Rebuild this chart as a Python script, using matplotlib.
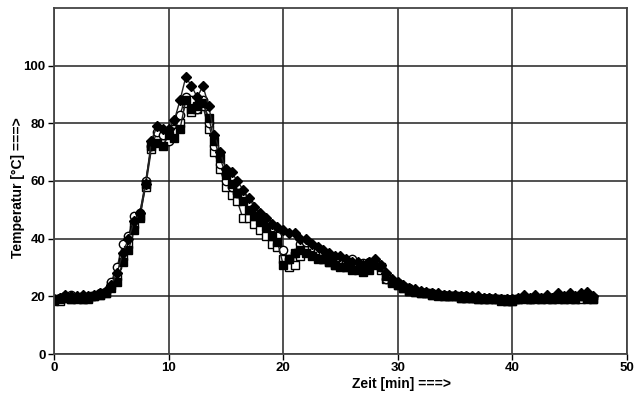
import numpy as np
import matplotlib.pyplot as plt

plt.rcParams['font.family'] = ['Liberation Sans', 'DejaVu Sans']

# time axis [min], one reading every half minute
zeit = np.arange(0, 47.5, 0.5)

# filled diamonds
temp_a = [19, 19.5, 20.5, 20, 20, 20.5, 20, 20.5, 21, 22,
          24, 28, 35, 40, 46, 49, 59, 74, 79, 78,
          78, 81, 88, 96, 93, 89, 93, 86, 76, 70,
          64, 63, 60, 57, 54, 51, 49, 47, 45, 44,
          43, 42, 42, 40, 40, 38, 37, 36, 35, 34,
          34, 33, 32, 32, 31, 32, 33, 31, 28, 26,
          25, 24, 23, 22.5, 22, 21.5, 21, 21, 20.5, 20.5,
          20.5, 20, 20, 20, 20, 19.5, 19.5, 19.5, 19, 19,
          19, 19.5, 20.5, 19.5, 20.5, 19.5, 20.5, 19.5, 21, 20,
          21, 20, 21, 21.5, 20]
# filled squares
temp_b = [18.5, 19, 19.5, 19, 19.5, 19, 19.5, 20, 20.5, 21,
          23, 25, 32, 36, 43, 47, 59, 72, 73, 72,
          76, 75, 78, 88, 85, 86, 87, 82, 74, 68,
          62, 59, 56, 53, 50, 48, 46, 44, 41, 39,
          31, 33, 35, 36, 35, 34, 33, 33, 32, 31,
          30, 30, 29, 29, 28.5, 29, 31, 30, 27, 25,
          24, 23, 22, 21.5, 21, 21, 20.5, 20.5, 20, 20,
          20, 19.5, 19.5, 19.5, 19, 19, 19, 19, 18.5, 18.5,
          18.5, 19, 19.5, 19, 19.5, 19, 19.5, 19, 19.5, 19,
          19.5, 19, 20, 19.5, 19]
# open circles
temp_c = [19, 19.5, 20, 20.5, 19.5, 20, 19.5, 20, 21, 21.5,
          25, 30, 38, 41, 48, 49, 60, 72, 77, 76,
          74, 77, 83, 89, 88, 85, 88, 80, 72, 66,
          60, 58, 56, 54, 52, 49, 47, 46, 44, 41,
          36, 33, 35, 38, 39, 37, 36, 35, 34, 33,
          33, 32, 33, 31, 31.5, 32, 32, 30, 26, 25,
          24.5, 23.5, 23, 22, 21.5, 21, 21, 20.5, 20.5, 20,
          20, 20, 20, 19.5, 19.5, 19.5, 19.5, 19, 19, 19,
          19, 19, 19.5, 19, 19.5, 19.5, 19.5, 19.5, 20, 19.5,
          20, 19.5, 20, 20, 19.5]
# open squares
temp_d = [19, 18.5, 19.5, 19, 19, 19, 19, 20, 20.5, 21,
          24, 27, 34, 38, 45, 48, 58, 71, 75, 73,
          75, 78, 80, 87, 84, 85, 86, 78, 70, 64,
          58, 55, 53, 47, 47, 45, 43, 41, 38, 37,
          33, 30, 31, 34, 36, 35, 34, 33, 32, 31,
          31, 30, 30, 29.5, 30, 31, 31.5, 29, 26, 24.5,
          24, 23, 22, 21.5, 21, 21, 20.5, 20, 20, 20,
          20, 19.5, 19.5, 19.5, 19, 19, 19, 19, 19, 18.5,
          18.5, 19, 19, 19, 19, 19, 19, 19, 19, 19,
          19, 19, 19, 19, 19]

reihen = [
    (temp_d, 's', 'white'),
    (temp_c, 'o', 'white'),
    (temp_b, 's', 'black'),
    (temp_a, 'D', 'black'),
]

fig = plt.figure(figsize=(6.38, 3.96), dpi=100)
ax = fig.add_axes([0.0846, 0.106, 0.898, 0.874])

for werte, marker, fuellung in reihen:
    ax.plot(zeit, werte, color='#222222', linewidth=1.0, marker=marker,
            markersize=6 if marker != 'D' else 5.5, markerfacecolor=fuellung,
            markeredgecolor='black', markeredgewidth=1.0)

ax.set_xlim(0, 50)
ax.set_ylim(0, 120)
ax.set_xticks([0, 10, 20, 30, 40, 50])
ax.set_yticks([0, 20, 40, 60, 80, 100])
ax.grid(True, color='#222222', linewidth=1.1)
ax.set_axisbelow(True)
for s in ax.spines.values():
    s.set_color('#444444')
    s.set_linewidth(1.3)
ax.tick_params(labelsize=9.5, length=4, width=1, pad=2)
for lab in ax.get_xticklabels() + ax.get_yticklabels():
    lab.set_fontweight('bold')

ax.set_xlabel('Zeit [min] ===>', fontsize=10, fontweight='bold', labelpad=1)
ax.xaxis.set_label_coords(0.606, -0.065)
ax.set_ylabel('Temperatur [°C] ===>', fontsize=10, fontweight='bold')
ax.yaxis.set_label_coords(-0.05, 0.48)

fig.savefig('out.png', dpi=100)
